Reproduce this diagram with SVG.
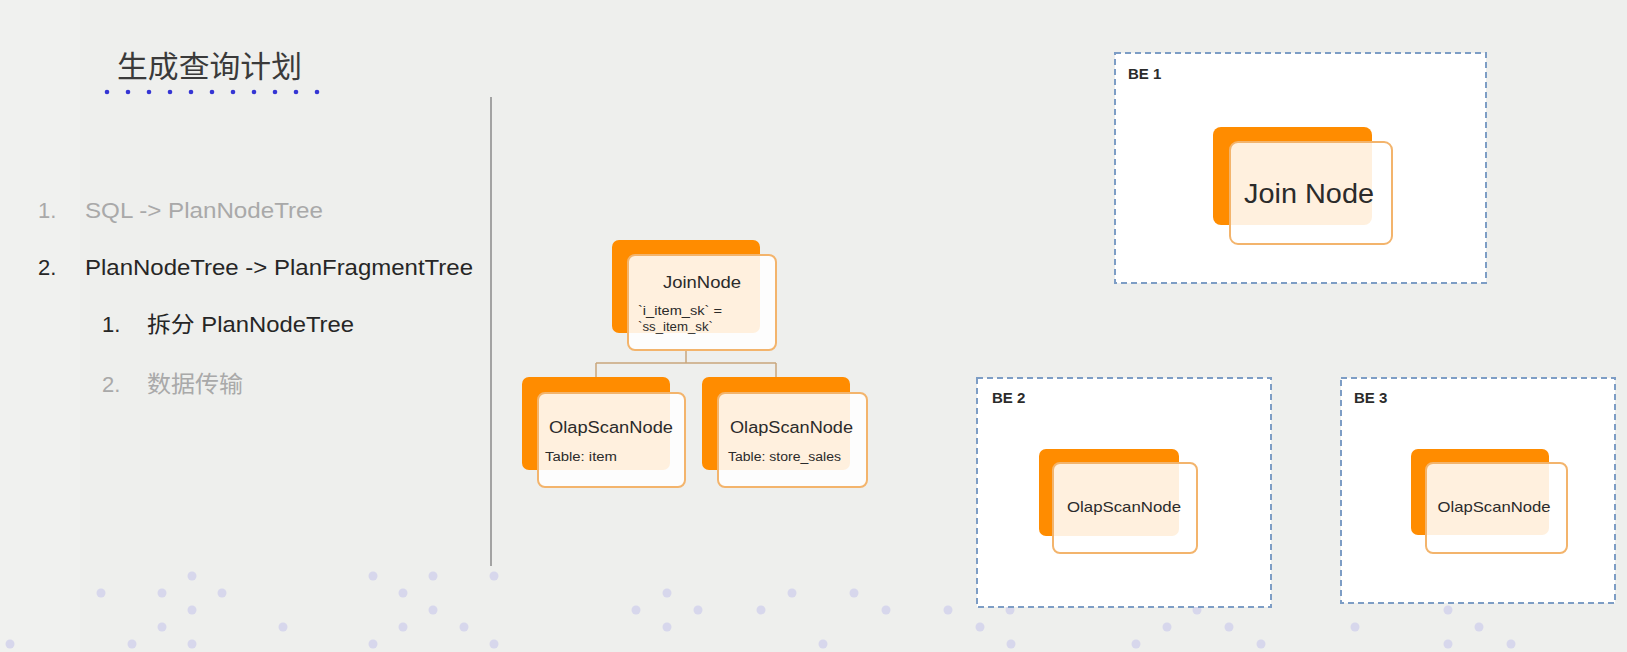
<svg xmlns="http://www.w3.org/2000/svg" width="1627" height="652" viewBox="0 0 1627 652">
<defs>
<style>
.bg{fill:#eeefed}
.band{fill:#f0f1ef}
.dot{fill:#d7d7ec}
.tdot{fill:#3535d4}
.t{font-family:"Liberation Sans","Noto Sans CJK SC",sans-serif}
.cjk{font-family:"Noto Sans CJK SC","Liberation Sans",sans-serif}
.gray{fill:#a9a9a9}
.dark{fill:#262626}
.back{fill:#ff8c00}
.front{fill:#ffffff;fill-opacity:0.87;stroke:#f3b46c;stroke-width:2}
.be{fill:#ffffff;stroke:#7d9dc5;stroke-width:2;stroke-dasharray:6 4}
.lbl{font-family:"Liberation Sans",sans-serif;fill:#2b2b2b}
.conn{fill:none;stroke:#c9a77c;stroke-width:1.5}
</style>
</defs>
<rect class="bg" x="0" y="0" width="1627" height="652"/>
<rect class="band" x="0" y="0" width="80" height="652"/>

<g id="bg-dots">
<circle class="dot" cx="192" cy="576" r="4.5"/><circle class="dot" cx="373" cy="576" r="4.5"/><circle class="dot" cx="433" cy="576" r="4.5"/><circle class="dot" cx="494" cy="576" r="4.5"/>
<circle class="dot" cx="101" cy="593" r="4.5"/><circle class="dot" cx="162" cy="593" r="4.5"/><circle class="dot" cx="222" cy="593" r="4.5"/><circle class="dot" cx="403" cy="593" r="4.5"/><circle class="dot" cx="667" cy="593" r="4.5"/><circle class="dot" cx="792" cy="593" r="4.5"/><circle class="dot" cx="854" cy="593" r="4.5"/>
<circle class="dot" cx="192" cy="610" r="4.5"/><circle class="dot" cx="433" cy="610" r="4.5"/><circle class="dot" cx="636" cy="610" r="4.5"/><circle class="dot" cx="698" cy="610" r="4.5"/><circle class="dot" cx="761" cy="610" r="4.5"/><circle class="dot" cx="886" cy="610" r="4.5"/><circle class="dot" cx="948" cy="610" r="4.5"/><circle class="dot" cx="1010" cy="610" r="4.5"/><circle class="dot" cx="1197" cy="610" r="4.5"/><circle class="dot" cx="1448" cy="610" r="4.5"/>
<circle class="dot" cx="162" cy="627" r="4.5"/><circle class="dot" cx="283" cy="627" r="4.5"/><circle class="dot" cx="403" cy="627" r="4.5"/><circle class="dot" cx="464" cy="627" r="4.5"/><circle class="dot" cx="667" cy="627" r="4.5"/><circle class="dot" cx="980" cy="627" r="4.5"/><circle class="dot" cx="1167" cy="627" r="4.5"/><circle class="dot" cx="1229" cy="627" r="4.5"/><circle class="dot" cx="1355" cy="627" r="4.5"/><circle class="dot" cx="1479" cy="627" r="4.5"/>
<circle class="dot" cx="10" cy="644" r="4.5"/><circle class="dot" cx="132" cy="644" r="4.5"/><circle class="dot" cx="192" cy="644" r="4.5"/><circle class="dot" cx="373" cy="644" r="4.5"/><circle class="dot" cx="494" cy="644" r="4.5"/><circle class="dot" cx="823" cy="644" r="4.5"/><circle class="dot" cx="1011" cy="644" r="4.5"/><circle class="dot" cx="1136" cy="644" r="4.5"/><circle class="dot" cx="1261" cy="644" r="4.5"/><circle class="dot" cx="1448" cy="644" r="4.5"/><circle class="dot" cx="1511" cy="644" r="4.5"/>
</g>

<g id="title">
<text class="cjk" x="117" y="77" font-size="30" fill="#3a3a3a" textLength="185" lengthAdjust="spacingAndGlyphs">生成查询计划</text>
<circle class="tdot" cx="107" cy="92" r="2.3"/><circle class="tdot" cx="128" cy="92" r="2.3"/><circle class="tdot" cx="149" cy="92" r="2.3"/><circle class="tdot" cx="170" cy="92" r="2.3"/><circle class="tdot" cx="191" cy="92" r="2.3"/><circle class="tdot" cx="212" cy="92" r="2.3"/><circle class="tdot" cx="233" cy="92" r="2.3"/><circle class="tdot" cx="254" cy="92" r="2.3"/><circle class="tdot" cx="275" cy="92" r="2.3"/><circle class="tdot" cx="296" cy="92" r="2.3"/><circle class="tdot" cx="317" cy="92" r="2.3"/>
</g>

<g id="steps">
<text class="t gray" x="38" y="218" font-size="22">1.</text>
<text class="t gray" x="85" y="218" font-size="22" textLength="238" lengthAdjust="spacingAndGlyphs">SQL -&gt; PlanNodeTree</text>
<text class="t dark" x="38" y="275" font-size="22">2.</text>
<text class="t dark" x="85" y="275" font-size="22" textLength="388" lengthAdjust="spacingAndGlyphs">PlanNodeTree -&gt; PlanFragmentTree</text>
<text class="t dark" x="102" y="332" font-size="22">1.</text>
<text class="t dark" x="147" y="332" font-size="22" textLength="207" lengthAdjust="spacingAndGlyphs">拆分 PlanNodeTree</text>
<text class="t gray" x="102" y="392" font-size="22">2.</text>
<text class="cjk gray" x="147" y="392" font-size="23" textLength="96" lengthAdjust="spacingAndGlyphs">数据传输</text>
</g>

<line id="divider" x1="491" y1="97" x2="491" y2="566" stroke="#a3a3a3" stroke-width="2"/>

<g id="connectors">
<path class="conn" d="M686 350 V363 M596 363 H776 M596 363 V377 M776 363 V377"/>
</g>

<g id="tree-join">
<rect class="back" x="612" y="240" width="148" height="93" rx="7"/>
<rect class="front" x="628" y="255" width="148" height="95" rx="7"/>
<text class="lbl" x="702" y="288" font-size="17" text-anchor="middle" textLength="78" lengthAdjust="spacingAndGlyphs">JoinNode</text>
<text class="lbl" x="638" y="315" font-size="12" textLength="84" lengthAdjust="spacingAndGlyphs">`i_item_sk` =</text>
<text class="lbl" x="638" y="331" font-size="12" textLength="75" lengthAdjust="spacingAndGlyphs">`ss_item_sk`</text>
</g>

<g id="tree-scan-item">
<rect class="back" x="522" y="377" width="148" height="93" rx="7"/>
<rect class="front" x="538" y="393" width="147" height="94" rx="7"/>
<text class="lbl" x="549" y="433" font-size="16" textLength="124" lengthAdjust="spacingAndGlyphs">OlapScanNode</text>
<text class="lbl" x="545" y="461" font-size="12.5" textLength="72" lengthAdjust="spacingAndGlyphs">Table: item</text>
</g>

<g id="tree-scan-sales">
<rect class="back" x="702" y="377" width="148" height="93" rx="7"/>
<rect class="front" x="718" y="393" width="149" height="94" rx="7"/>
<text class="lbl" x="730" y="433" font-size="16" textLength="123" lengthAdjust="spacingAndGlyphs">OlapScanNode</text>
<text class="lbl" x="728" y="461" font-size="12.5" textLength="113" lengthAdjust="spacingAndGlyphs">Table: store_sales</text>
</g>

<g id="be1">
<rect class="be" x="1115" y="53" width="371" height="230"/>
<text class="lbl" x="1128" y="79" font-size="15" font-weight="bold">BE 1</text>
<rect class="back" x="1213" y="127" width="159" height="98" rx="8"/>
<rect class="front" x="1230" y="142" width="162" height="102" rx="8"/>
<text class="lbl" x="1309" y="203" font-size="28" text-anchor="middle" textLength="130" lengthAdjust="spacingAndGlyphs" fill="#1e1e1e">Join Node</text>
</g>

<g id="be2">
<rect class="be" x="977" y="378" width="294" height="229"/>
<text class="lbl" x="992" y="403" font-size="15" font-weight="bold">BE 2</text>
<rect class="back" x="1039" y="449" width="140" height="87" rx="7"/>
<rect class="front" x="1053" y="463" width="144" height="90" rx="7"/>
<text class="lbl" x="1124" y="512" font-size="14.5" text-anchor="middle" textLength="114" lengthAdjust="spacingAndGlyphs">OlapScanNode</text>
</g>

<g id="be3">
<rect class="be" x="1341" y="378" width="274" height="225"/>
<text class="lbl" x="1354" y="403" font-size="15" font-weight="bold">BE 3</text>
<rect class="back" x="1411" y="449" width="138" height="86" rx="7"/>
<rect class="front" x="1426" y="463" width="141" height="90" rx="7"/>
<text class="lbl" x="1494" y="512" font-size="14.5" text-anchor="middle" textLength="113" lengthAdjust="spacingAndGlyphs">OlapScanNode</text>
</g>
</svg>
